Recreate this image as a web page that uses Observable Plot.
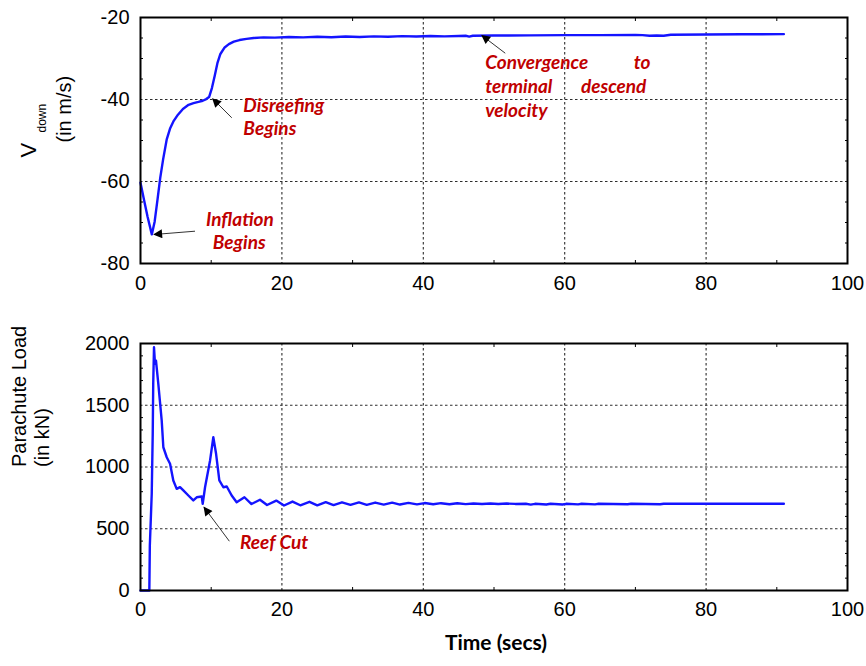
<!DOCTYPE html>
<html><head><meta charset="utf-8">
<script src="https://cdn.jsdelivr.net/npm/d3@7"></script>
<script src="https://cdn.jsdelivr.net/npm/@observablehq/plot@0.6"></script>
<style>
body{margin:0;background:#fff;}
#wrap{position:relative;width:866px;height:666px;overflow:hidden;background:#fff;}
#top{position:absolute;left:0;top:0;}
#bot{position:absolute;left:0;top:300px;}
</style></head><body><div id="wrap"><div id="top"></div><div id="bot"></div></div>
<script>
// ---------- data ----------
const timeV = [0,0.5,1.0,1.6,2.0,2.4,2.8,3.2,3.7,4.2,4.7,5.3,6.0,6.8,7.5,8.2,8.8,9.3,9.7,10.1,10.5,10.9,11.3,11.9,12.5,13.2,14,15,16,17.4,19,21,23,25,27,29,31,33,35,37,39,41,43,45,46,46.5,47,50,55,60,65,70,71,72,73,74,75,80,85,91];
const vDown = [-60.3,-64.5,-68.6,-72.9,-69.8,-64.5,-59.0,-54.6,-49.8,-47.0,-45.2,-43.7,-42.3,-41.3,-40.9,-40.6,-40.3,-39.9,-39.4,-37.2,-34.2,-31.0,-28.9,-27.3,-26.5,-25.9,-25.5,-25.2,-25.0,-24.85,-24.9,-24.75,-24.85,-24.7,-24.8,-24.65,-24.75,-24.6,-24.7,-24.55,-24.65,-24.5,-24.6,-24.5,-24.45,-24.65,-24.45,-24.4,-24.35,-24.3,-24.3,-24.25,-24.3,-24.45,-24.4,-24.45,-24.2,-24.15,-24.1,-24.05];

const timeL = [0,1.2,1.25,1.32,1.59,1.73,1.8,1.91,2.05,2.19,2.52,3.0,3.23,3.71,4.18,4.64,5.12,5.59,6.06,6.77,7.47,7.95,8.66,8.8,9.13,9.84,10.3,10.69,11.15,11.72,12.2,12.9,13.6,14.7,15.7,16.9,17.9,19.2,20.3,21.5,22.6,23.9,25.0,26.2,27.3,28.5,29.7,30.9,32.0,33.2,34.4,35.6,36.7,37.9,39.1,40.2,41.4,42.5,43.7,44.8,46.0,47.1,48.3,49.5,50.6,51.8,53.0,54.5,55.2,55.8,57.4,58.0,59.7,60.2,61.9,62.4,64.3,64.8,68.9,69.4,73.5,74.0,91];
const load = [0,0,0,364,785,1271,1676,1970,1835,1862,1674,1376,1160,1079,1026,891,823,837,810,769,729,755,761,702,836,1053,1241,1107,891,836,842,769,715,755,700,735,692,728,688,720,690,718,690,715,692,714,693,713,694,712,695,711,696,709,697,708,698,707,698,706,699,705,700,704,700,704,701,702,695,702,696,702,696,702,697,702,697,702,698,702,698,702,702];

const xTicks = [0,20,40,60,80,100];
const xGrid = [20,40,60,80];
const xMinor = [10,30,50,70,90];
const vTicks = [-80,-60,-40,-20];
const vGrid = [-60,-40];
const vMinor = [-75,-70,-65,-55,-50,-45,-35,-30,-25];
const loadTicks = [0,500,1000,1500,2000];
const loadGrid = [500,1000,1500];
const loadMinor = [100,200,300,400,600,700,800,900,1100,1200,1300,1400,1600,1700,1800,1900];

// annotations (data coordinates)
const topNoteText = ["Inflation","Begins","Disreefing","Begins","Convergence","to","terminal","descend","velocity"];
const topNoteT = [9.27,10.22,14.55,14.55,48.76,69.75,48.76,62.3,48.76];
const topNoteV = [-69.34,-75.05,-41.46,-47.15,-31.05,-31.05,-37.0,-37.0,-42.7];
const topArrowT1 = [7.71,12.91,51.59];
const topArrowV1 = [-72.12,-44.46,-28.71];
const topArrowT2 = [1.91,10.22,48.29];
const topArrowV2 = [-72.93,-39.83,-24.39];

const botNoteText = ["Reef Cut"];
const botNoteT = [14.08];
const botNoteL = [389];
const botArrowT1 = [12.57], botArrowL1 = [399], botArrowT2 = [8.99], botArrowL2 = [674];

const topYLabel = ["V","down","(in m/s)"];
const botYLabel = ["Parachute Load","(in kN)"];
const xLabel = "Time (secs)";

// ---------- chart ----------
const W = 866;
const gridStyle = {stroke:"#222", strokeOpacity:0.95, strokeWidth:1.1, strokeDasharray:"2.5,2.5"};
const noteStyle = {textAnchor:"start", fill:"#c00000", fontFamily:"Lato", fontStyle:"italic", fontWeight:"bold", fontSize:19};
const lineColor = "#1414ff";
const baseStyle = {fontFamily:"'Liberation Sans', Arial, sans-serif", fontSize:"20px", background:"white", overflow:"visible", color:"black"};
const blank = () => "";
const plain = d => String(d);

const vData = timeV.map((t,i) => ({t, v:vDown[i]}));
const lData = timeL.map((t,i) => ({t, l:load[i]}));
const topNotes = topNoteText.map((text,i) => ({text, t:topNoteT[i], v:topNoteV[i]}));
const topArrows = topArrowT1.map((t1,i) => ({t1, v1:topArrowV1[i], t2:topArrowT2[i], v2:topArrowV2[i]}));
const botNotes = botNoteText.map((text,i) => ({text, t:botNoteT[i], l:botNoteL[i]}));
const botArrows = botArrowT1.map((t1,i) => ({t1, l1:botArrowL1[i], t2:botArrowT2[i], l2:botArrowL2[i]}));

const axisFont = {fontFamily:"'Liberation Sans', Arial, sans-serif", fontSize:20};

const topPlot = Plot.plot({
  width: W, height: 300,
  marginLeft: 140, marginRight: 19, marginTop: 17, marginBottom: 37,
  style: baseStyle,
  x: {domain:[0,100]},
  y: {domain:[-80,-20]},
  marks: [
    Plot.gridX(xGrid, gridStyle),
    Plot.gridY(vGrid, gridStyle),
    Plot.axisX(xTicks, {tickSize:0, tickPadding:12, label:null, tickFormat:plain, ...axisFont}),
    Plot.axisY(vTicks, {tickSize:0, tickPadding:11, label:null, tickFormat:plain, ...axisFont}),
    Plot.axisY(vMinor, {anchor:"left", tickSize:-3, tickFormat:blank, label:null}),
    Plot.axisY(vMinor, {anchor:"right", tickSize:-3, tickFormat:blank, label:null}),
    Plot.axisX(xMinor, {anchor:"top", tickSize:-3, tickFormat:blank, label:null}),
    Plot.axisX(xMinor, {anchor:"bottom", tickSize:-3, tickFormat:blank, label:null}),
    Plot.line(vData, {x:"t", y:"v", stroke:lineColor, strokeWidth:2.4, strokeLinejoin:"round"}),
    Plot.frame({stroke:"black", strokeWidth:2}),
    Plot.link(topArrows, {x1:"t1", y1:"v1", x2:"t2", y2:"v2", stroke:"#333", strokeWidth:1}),
    Plot.text(topNotes, {x:"t", y:"v", text:"text", ...noteStyle}),
    Plot.text([topYLabel[0]], {frameAnchor:"left", text:d=>d, rotate:-90, dx:-112, dy:17, fontSize:22, ...{fontFamily:axisFont.fontFamily}}),
    Plot.text([topYLabel[1]], {frameAnchor:"left", text:d=>d, rotate:-90, dx:-98, dy:-8, fontSize:12, fontFamily:axisFont.fontFamily}),
    Plot.text([topYLabel[2]], {frameAnchor:"left", text:d=>d, rotate:-90, dx:-76, dy:2, fontSize:20, fontFamily:axisFont.fontFamily})
  ]
});

const botPlot = Plot.plot({
  width: W, height: 366,
  marginLeft: 140, marginRight: 19, marginTop: 43, marginBottom: 76,
  style: baseStyle,
  x: {domain:[0,100]},
  y: {domain:[0,2000]},
  marks: [
    Plot.gridX(xGrid, gridStyle),
    Plot.gridY(loadGrid, gridStyle),
    Plot.axisX(xTicks, {tickSize:0, tickPadding:11, label:null, tickFormat:plain, ...axisFont}),
    Plot.axisY(loadTicks, {tickSize:0, tickPadding:11, label:null, tickFormat:plain, ...axisFont}),
    Plot.axisY(loadMinor, {anchor:"left", tickSize:-3, tickFormat:blank, label:null}),
    Plot.axisY(loadMinor, {anchor:"right", tickSize:-3, tickFormat:blank, label:null}),
    Plot.axisX(xMinor, {anchor:"top", tickSize:-3, tickFormat:blank, label:null}),
    Plot.axisX(xMinor, {anchor:"bottom", tickSize:-3, tickFormat:blank, label:null}),
    Plot.line(lData, {x:"t", y:"l", stroke:lineColor, strokeWidth:2.4, strokeLinejoin:"round"}),
    Plot.frame({stroke:"black", strokeWidth:2}),
    Plot.link(botArrows, {x1:"t1", y1:"l1", x2:"t2", y2:"l2", stroke:"#333", strokeWidth:1}),
    Plot.text(botNotes, {x:"t", y:"l", text:"text", ...noteStyle}),
    Plot.text([botYLabel[0]], {frameAnchor:"left", text:d=>d, rotate:-90, dx:-121, dy:0, fontSize:20, fontFamily:axisFont.fontFamily}),
    Plot.text([botYLabel[1]], {frameAnchor:"left", text:d=>d, rotate:-90, dx:-98, dy:0, fontSize:20, fontFamily:axisFont.fontFamily}),
    Plot.text([xLabel], {frameAnchor:"bottom", text:d=>d, dx:2, dy:59, fontFamily:"Lato", fontWeight:"bold", fontSize:21})
  ]
});

function addArrowHeads(svgNode, id) {
  const svg = d3.select(svgNode);
  svg.append("defs").append("marker")
    .attr("id", id).attr("viewBox", "0 0 10 10")
    .attr("refX", 9).attr("refY", 5)
    .attr("markerWidth", 11).attr("markerHeight", 9)
    .attr("markerUnits", "userSpaceOnUse").attr("orient", "auto")
    .append("path").attr("d", "M0,0L10,5L0,10z").attr("fill", "black");
  svg.selectAll('g[aria-label="link"] path').attr("marker-end", `url(#${id})`);
}
addArrowHeads(topPlot, "ahTop");
addArrowHeads(botPlot, "ahBot");

document.getElementById("top").appendChild(topPlot);
document.getElementById("bot").appendChild(botPlot);
</script>
</body></html>
